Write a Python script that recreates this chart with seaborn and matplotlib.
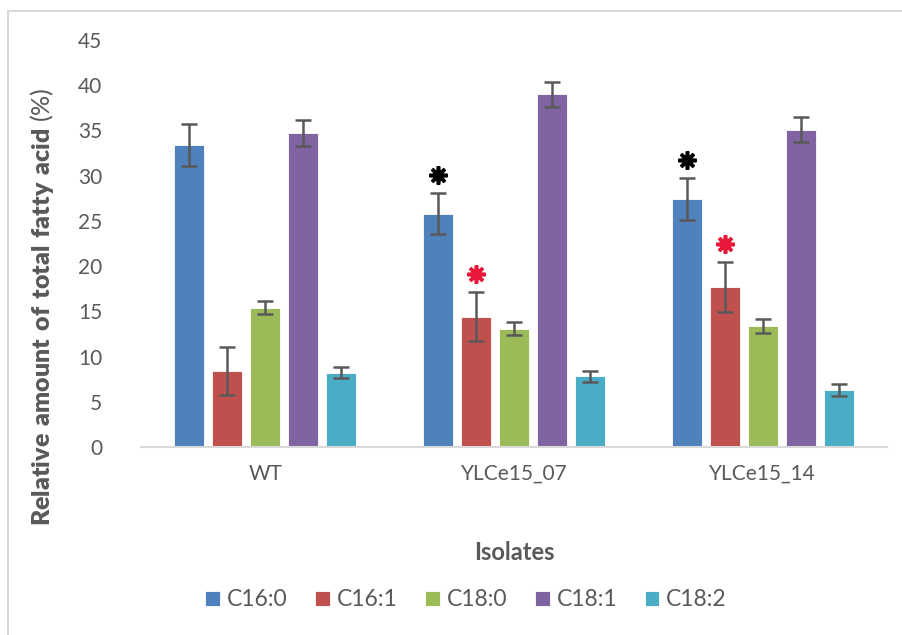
import numpy as np
import pandas as pd
import matplotlib
matplotlib.use("Agg")
import matplotlib.pyplot as plt
from matplotlib.patches import Rectangle
from matplotlib.container import BarContainer
import seaborn as sns

# ============================================================
# DATEN
# ============================================================
isolates = ["WT", "YLCe15_07", "YLCe15_14"]
fatty_acids = ["C16:0", "C16:1", "C18:0", "C18:1", "C18:2"]

c16_0 = [33.4, 25.8, 27.4]
c16_1 = [8.4, 14.4, 17.7]
c18_0 = [15.4, 13.1, 13.4]
c18_1 = [34.7, 39.0, 35.1]
c18_2 = [8.2, 7.8, 6.3]

err_c16_0 = [2.3, 2.3, 2.3]
err_c16_1 = [2.7, 2.7, 2.75]
err_c18_0 = [0.7, 0.7, 0.75]
err_c18_1 = [1.4, 1.4, 1.4]
err_c18_2 = [0.6, 0.6, 0.65]

# Signifikanz-Sterne: (Isolat, Fettsäure, Farbe)
stars = [
    ("YLCe15_07", "C16:0", "black"),
    ("YLCe15_07", "C16:1", "#E8173A"),
    ("YLCe15_14", "C16:0", "black"),
    ("YLCe15_14", "C16:1", "#E8173A"),
]

palette = ["#4F81BD", "#C0504D", "#9BBB59", "#8064A2", "#4BACC6"]

means = [c16_0, c16_1, c18_0, c18_1, c18_2]
errs = [err_c16_0, err_c16_1, err_c18_0, err_c18_1, err_c18_2]

df = pd.DataFrame({
    "isolate": np.tile(isolates, len(fatty_acids)),
    "fa": np.repeat(fatty_acids, len(isolates)),
    "value": np.concatenate(means),
    "err": np.concatenate(errs),
})

# ============================================================
# PLOT
# ============================================================
sns.set_style("white")
plt.rcParams["font.family"] = ["Lato", "DejaVu Sans"]
plt.rcParams["mathtext.fontset"] = "custom"
plt.rcParams["mathtext.bf"] = "Lato:heavy"
plt.rcParams["mathtext.rm"] = "Lato"

fig = plt.figure(figsize=(9.02, 6.35), dpi=100)
ax = fig.add_axes([141 / 902, 188 / 635, 746 / 902, 407 / 635])

sns.barplot(data=df, x="isolate", y="value", hue="fa", order=isolates,
            hue_order=fatty_acids, palette=palette, width=0.765, gap=0.21,
            errorbar=None, saturation=1, ax=ax, legend=True,
            edgecolor="white", linewidth=0.6)

bars = [c for c in ax.containers if isinstance(c, BarContainer)]

# Fehlerbalken an den Balkenmitten
for k, cont in enumerate(bars):
    xs = [b.get_x() + b.get_width() / 2 for b in cont]
    ax.errorbar(xs, means[k], yerr=errs[k], fmt="none", ecolor="#595959",
                elinewidth=1.8, capsize=6, capthick=1.8, zorder=5)

# Sterne (8-strahliges Sternchen)
for iso, fa, col in stars:
    k = fatty_acids.index(fa)
    i = isolates.index(iso)
    b = bars[k][i]
    y = means[k][i] + errs[k][i] + 2.0
    ax.plot(b.get_x() + b.get_width() / 2, y, marker=(8, 2, 0), color=col,
            markersize=13, markeredgewidth=2.6, zorder=6)

ax.set_ylim(0, 45)
ax.set_xlim(-0.5, 2.5)
ax.set_yticks(range(0, 46, 5))
ax.tick_params(axis="both", length=0, labelsize=15, labelcolor="#595959")
ax.tick_params(axis="y", pad=28)
ax.tick_params(axis="x", pad=12)

for s in ["left", "top", "right"]:
    ax.spines[s].set_visible(False)
ax.spines["bottom"].set_color("#D9D9D9")
ax.spines["bottom"].set_linewidth(1.5)

ax.set_xlabel("Isolates", fontsize=17, fontweight="bold", color="#595959")
ax.xaxis.set_label_coords(0.5, (447 - 553) / 407, transform=ax.transAxes)
ax.xaxis.label.set_va("center")
ax.set_ylabel(r"$\bf{Relative\ amount\ of\ total\ fatty\ acid}$ (%)", fontsize=18,
              color="#595959")
ax.yaxis.set_label_coords((42 - 141) / 746, (447 - 307) / 407, transform=ax.transAxes)
ax.yaxis.label.set_va("center")

ax.legend(loc="center", bbox_to_anchor=(466 / 902, 1 - 600 / 635),
          bbox_transform=fig.transFigure, ncol=5, frameon=False, fontsize=16.5,
          handlelength=0.65, handleheight=0.65, handletextpad=0.3, columnspacing=1.2,
          labelcolor="#595959")

# Rahmen um das Diagramm
fig.patches.append(Rectangle((8 / 902, -0.1), 1.1, 1 - 11 / 635 + 0.1,
                             transform=fig.transFigure, fill=False,
                             edgecolor="#D9D9D9", linewidth=1.5))

plt.savefig("out.png", dpi=100)
